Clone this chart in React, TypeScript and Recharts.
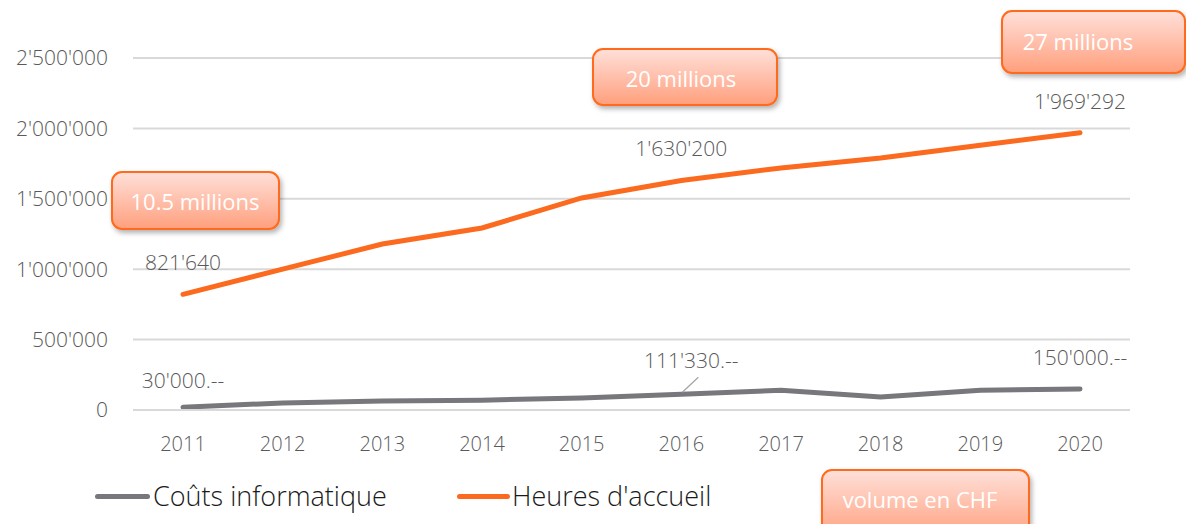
import React from 'react';
import { LineChart, Line, XAxis, YAxis, CartesianGrid, Legend, LabelList, Customized } from 'recharts';

const years = ['2011', '2012', '2013', '2014', '2015', '2016', '2017', '2018', '2019', '2020'];
const coutsInformatique = [20000, 50000, 64000, 70000, 85000, 111330, 140000, 92000, 140000, 150000];
const heuresAccueil = [821640, 1000000, 1179000, 1293000, 1506000, 1630200, 1719000, 1790000, 1880000, 1969292];
const coutsLabels = ["30'000.--", '', '', '', '', "111'330.--", '', '', '', "150'000.--"];
const heuresLabels = ["821'640", '', '', '', '', "1'630'200", '', '', '', "1'969'292"];
const yTicks = [0, 500000, 1000000, 1500000, 2000000, 2500000];
const callouts = ['10.5 millions', '20 millions', '27 millions', 'volume en CHF'];

const data = years.map((y, i) => ({
  year: y,
  couts: coutsInformatique[i],
  heures: heuresAccueil[i],
  coutsLabel: coutsLabels[i],
  heuresLabel: heuresLabels[i],
}));

const FONT = "'Open Sans', 'Noto Sans', sans-serif";
const GRAY = '#77777c';
const ORANGE = '#fb6a1e';
const TEXT = '#595959';

const fmt = (v: number) => String(v).replace(/\B(?=(\d{3})+(?!\d))/g, "'");

const HeuresLabel = (props: any) => {
  const { x, y, value } = props;
  if (!value) return null;
  return (
    <text x={x} y={y - 32} textAnchor="middle" dominantBaseline="central" fontSize={21} fontWeight={300} fill={TEXT} fontFamily={FONT}>
      {value}
    </text>
  );
};

const CoutsLabel = (props: any) => {
  const { x, y, value, index } = props;
  if (!value) return null;
  if (index === 5) {
    return (
      <g>
        <line x1={x + 1} y1={y - 2} x2={x + 17} y2={y - 17} stroke="#a6a6a6" strokeWidth={1.3} />
        <text x={x + 10} y={y - 34} textAnchor="middle" dominantBaseline="central" fontSize={21} fontWeight={300} fill={TEXT} fontFamily={FONT}>
          {value}
        </text>
      </g>
    );
  }
  const dy = index === 0 ? 27 : 32;
  return (
    <text x={x} y={y - dy} textAnchor="middle" dominantBaseline="central" fontSize={21} fontWeight={300} fill={TEXT} fontFamily={FONT}>
      {value}
    </text>
  );
};

const Callouts = () => {
  const boxes = [
    { x: 112, y: 172, w: 167, h: 57, tx: 195, ty: 201 },
    { x: 593, y: 49, w: 184, h: 56, tx: 681, ty: 78 },
    { x: 1002, y: 11, w: 183, h: 62, tx: 1078, ty: 41 },
    { x: 822, y: 470, w: 207, h: 70, tx: 920, ty: 499 },
  ];
  return (
    <g>
      <defs>
        <linearGradient id="calloutGrad" x1="0" y1="0" x2="0" y2="1">
          <stop offset="0%" stopColor="#ffe0d9" />
          <stop offset="100%" stopColor="#ff9f7d" />
        </linearGradient>
        <filter id="calloutShadow" x="-20%" y="-20%" width="140%" height="160%">
          <feDropShadow dx="2" dy="3" stdDeviation="2.5" floodColor="#000" floodOpacity="0.3" />
        </filter>
      </defs>
      {boxes.map((b, i) => (
        <g key={i}>
          <rect x={b.x} y={b.y} width={b.w} height={b.h} rx={10} ry={10} fill="url(#calloutGrad)" stroke="#ff6a1a" strokeWidth={2} filter="url(#calloutShadow)" />
          <text x={b.tx} y={b.ty} textAnchor="middle" dominantBaseline="central" fontSize={22} fontWeight={400} fill="#ffffff" fontFamily={FONT}>
            {callouts[i]}
          </text>
        </g>
      ))}
    </g>
  );
};

const renderLegend = () => (
  <div style={{ position: 'relative', height: 50, fontFamily: FONT, fontWeight: 300, fontSize: 27, color: '#1a1a1a' }}>
    <div style={{ position: 'absolute', left: 95, top: 40, width: 55, height: 5, borderRadius: 3, background: GRAY }} />
    <div style={{ position: 'absolute', left: 153, top: 26, lineHeight: '32px', whiteSpace: 'nowrap' }}>Coûts informatique</div>
    <div style={{ position: 'absolute', left: 457, top: 40, width: 53, height: 5, borderRadius: 3, background: ORANGE }} />
    <div style={{ position: 'absolute', left: 512, top: 26, lineHeight: '32px', whiteSpace: 'nowrap' }}>Heures d'accueil</div>
  </div>
);

export default function App() {
  return (
    <div style={{ position: 'absolute', left: 0, top: 0, width: 1186, height: 524, background: '#fff', overflow: 'hidden' }}>
      <LineChart width={1186} height={524} data={data} margin={{ top: 58, right: 56, left: 0, bottom: 20 }}>
        <CartesianGrid vertical={false} stroke="#d9d9d9" strokeWidth={2} />
        <XAxis
          dataKey="year"
          axisLine={{ stroke: '#d9d9d9', strokeWidth: 2 }}
          tickLine={false}
          tickSize={0}
          tickMargin={27}
          height={44}
          tick={{ fill: TEXT, fontSize: 20, fontWeight: 300, fontFamily: FONT }}
          padding={{ left: 50, right: 50 }}
        />
        <YAxis
          domain={[0, 2500000]}
          ticks={yTicks}
          tickFormatter={fmt}
          axisLine={false}
          tickLine={false}
          tickSize={0}
          tickMargin={25}
          width={133}
          tick={{ fill: TEXT, fontSize: 21, fontWeight: 300, fontFamily: FONT }}
        />
        <Legend verticalAlign="bottom" height={50} content={renderLegend} wrapperStyle={{ left: 0, width: 1186 }} />
        <Line type="linear" dataKey="couts" name="Coûts informatique" stroke={GRAY} strokeWidth={5} strokeLinecap="round" dot={false} isAnimationActive={false}>
          <LabelList dataKey="coutsLabel" content={CoutsLabel} />
        </Line>
        <Line type="linear" dataKey="heures" name="Heures d'accueil" stroke={ORANGE} strokeWidth={5} strokeLinecap="round" dot={false} isAnimationActive={false}>
          <LabelList dataKey="heuresLabel" content={HeuresLabel} />
        </Line>
        <Customized component={Callouts} />
      </LineChart>
    </div>
  );
}
